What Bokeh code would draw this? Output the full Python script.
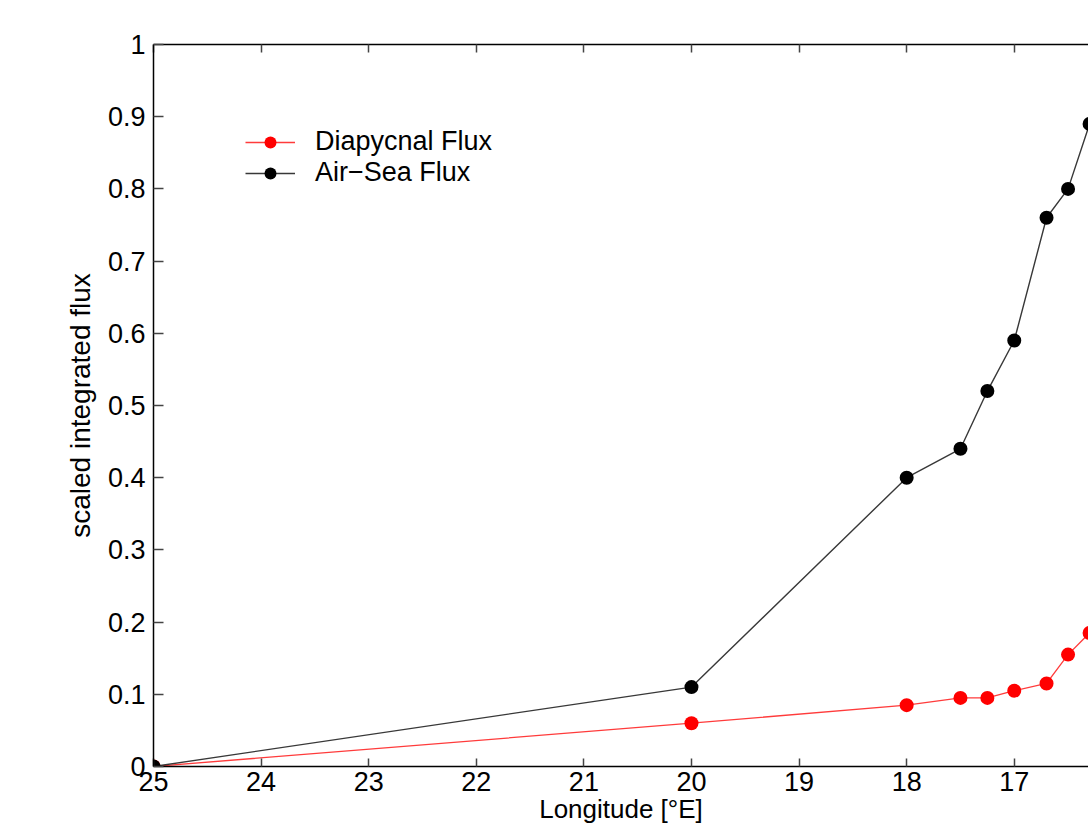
from bokeh.plotting import figure
from bokeh.models import (Range1d, LinearAxis, FixedTicker, NumeralTickFormatter,
                          Legend, LegendItem, ColumnDataSource)
from bokeh.embed import file_html
from bokeh.resources import INLINE

# ---- data ----
longitude = [25, 20, 18, 17.5, 17.25, 17, 16.7, 16.5, 16.3]
diapycnal_flux = [0, 0.06, 0.085, 0.095, 0.095, 0.105, 0.115, 0.155, 0.185]
airsea_flux = [0, 0.11, 0.40, 0.44, 0.52, 0.59, 0.76, 0.80, 0.89]
x_ticks = [17, 18, 19, 20, 21, 22, 23, 24, 25]
y_ticks = [0, 0.1, 0.2, 0.3, 0.4, 0.5, 0.6, 0.7, 0.8, 0.9, 1.0]
series_labels = ["Diapycnal Flux", "Air\u2212Sea Flux"]
x_title = "Longitude [\u00b0E]"
y_title = "scaled integrated flux"

FONT = "Liberation Sans"

p = figure(width=1088, height=827, output_backend="svg", toolbar_location=None,
           x_range=Range1d(25, 16.31), y_range=Range1d(0, 1),
           x_axis_location=None, y_axis_location=None,
           min_border_left=153, min_border_right=0, min_border_top=44,
           min_border_bottom=61)
p.outline_line_color = None
p.grid.visible = False
p.background_fill_color = "white"
p.border_fill_color = "white"

def style_axis(ax, tick_in):
    ax.axis_line_color = "black"
    ax.axis_line_width = 1.5
    ax.major_tick_in = tick_in
    ax.major_tick_out = 0
    ax.major_tick_line_color = "#444444"
    ax.major_tick_line_width = 1.5
    ax.minor_tick_line_color = None
    ax.major_label_text_font = FONT
    ax.major_label_text_font_size = "27px"
    ax.major_label_text_color = "black"
    ax.major_label_standoff = 8

xaxis = LinearAxis(ticker=FixedTicker(ticks=x_ticks))
style_axis(xaxis, 8)
xaxis.major_label_standoff = 5
xaxis.axis_label = x_title
xaxis.axis_label_text_font = FONT
xaxis.axis_label_text_font_size = "26px"
xaxis.axis_label_text_font_style = "normal"
xaxis.axis_label_text_color = "black"
xaxis.axis_label_standoff = 0
p.add_layout(xaxis, "below")

xtop = LinearAxis(ticker=FixedTicker(ticks=x_ticks))
style_axis(xtop, 8)
xtop.major_label_overrides = {t: "" for t in x_ticks}
xtop.major_label_standoff = 0
p.add_layout(xtop, "above")

yaxis = LinearAxis(ticker=FixedTicker(ticks=y_ticks),
                   formatter=NumeralTickFormatter(format="0.[0]"))
style_axis(yaxis, 10)
yaxis.axis_label = y_title
yaxis.axis_label_text_font = FONT
yaxis.axis_label_text_font_size = "28px"
yaxis.axis_label_text_font_style = "normal"
yaxis.axis_label_text_color = "black"
yaxis.axis_label_standoff = 9
p.add_layout(yaxis, "left")

src = ColumnDataSource(dict(lon=longitude, dia=diapycnal_flux, air=airsea_flux))

red_line = p.line("lon", "dia", source=src, line_color="#ff3b3b", line_width=1.3)
red_pts = p.scatter("lon", "dia", source=src, size=14, fill_color="red",
                    line_color="red", line_width=0)
blk_line = p.line("lon", "air", source=src, line_color="#383838", line_width=1.4)
blk_pts = p.scatter("lon", "air", source=src, size=14, fill_color="black",
                    line_color="black", line_width=0)

legend = Legend(items=[LegendItem(label=series_labels[0], renderers=[red_line, red_pts]),
                       LegendItem(label=series_labels[1], renderers=[blk_line, blk_pts])],
                location=(92, 578), orientation="vertical",
                label_text_font=FONT, label_text_font_size="27px",
                label_text_color="black", label_standoff=20,
                glyph_width=50, glyph_height=30, label_height=30,
                spacing=0, padding=0, margin=0,
                border_line_color=None, background_fill_alpha=0)
p.add_layout(legend, "center")

open("out.html", "w").write(file_html(p, INLINE))
